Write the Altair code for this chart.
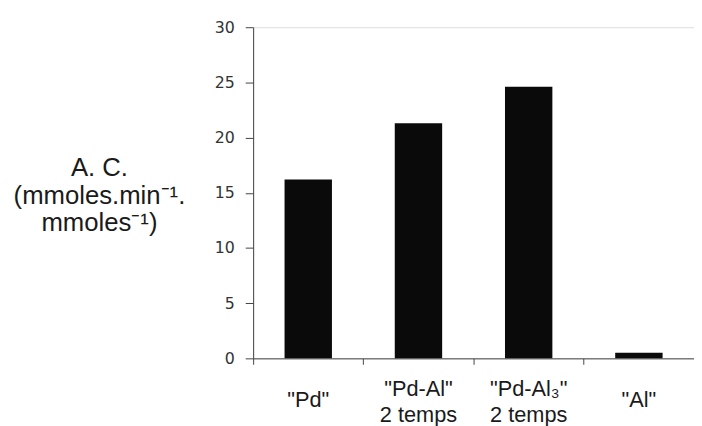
import altair as alt
import pandas as pd

categories = ['"Pd"', '"Pd-Al"|2 temps', '"Pd-Al₃"|2 temps', '"Al"']
values = [16.2, 21.3, 24.6, 0.5]
y_ticks = [0, 5, 10, 15, 20, 25, 30]
y_title = ["A. C.", "(mmoles.min⁻¹.", "mmoles⁻¹)"]

df = pd.DataFrame({"cat": categories, "val": values})

chart = alt.Chart(df).mark_bar(
    color="#0a0a0a", width=alt.RelativeBandSize(0.43)
).encode(
    x=alt.X(
        "cat:N",
        sort=None,
        scale=alt.Scale(paddingInner=0, paddingOuter=0),
        axis=alt.Axis(
            title=None,
            labelAngle=0,
            labelExpr="split(datum.label, '|')",
            labelFont="Liberation Sans",
            labelFontSize=22,
            labelColor="#1a1a1a",
            labelLineHeight=26,
            labelBaseline="middle",
            labelPadding={
                "condition": {"test": "indexof(datum.value, '|') >= 0", "value": 25},
                "value": 36,
            },
            tickSize=6,
            bandPosition=0,
            domainColor="#444444",
            tickColor="#444444",
            labelFlush=False,
            labelOverlap=False,
        ),
    ),
    y=alt.Y(
        "val:Q",
        scale=alt.Scale(domain=[0, 30], nice=False),
        axis=alt.Axis(
            values=y_ticks,
            title=y_title,
            titleAngle=0,
            titleAlign="center",
            titleBaseline="alphabetic",
            titleX=-156,
            titleY=150,
            titleFont="Liberation Sans",
            titleFontSize=26,
            titleFontWeight="normal",
            titleColor="#1a1a1a",
            titleLineHeight=28,
            labelFont="DejaVu Sans",
            labelFontSize=16,
            labelColor="#333333",
            labelPadding=11,
            tickSize=8,
            domainColor="#444444",
            tickColor="#444444",
            grid=False,
        ),
    ),
).properties(
    width=446,
    height=335,
    autosize=alt.AutoSizeParams(type="none"),
    padding={"left": 248, "top": 17, "right": 0, "bottom": 66},
).configure_view(stroke=None).configure(background="white")

chart.save("out.html", embed_options={"renderer": "svg", "actions": False})
